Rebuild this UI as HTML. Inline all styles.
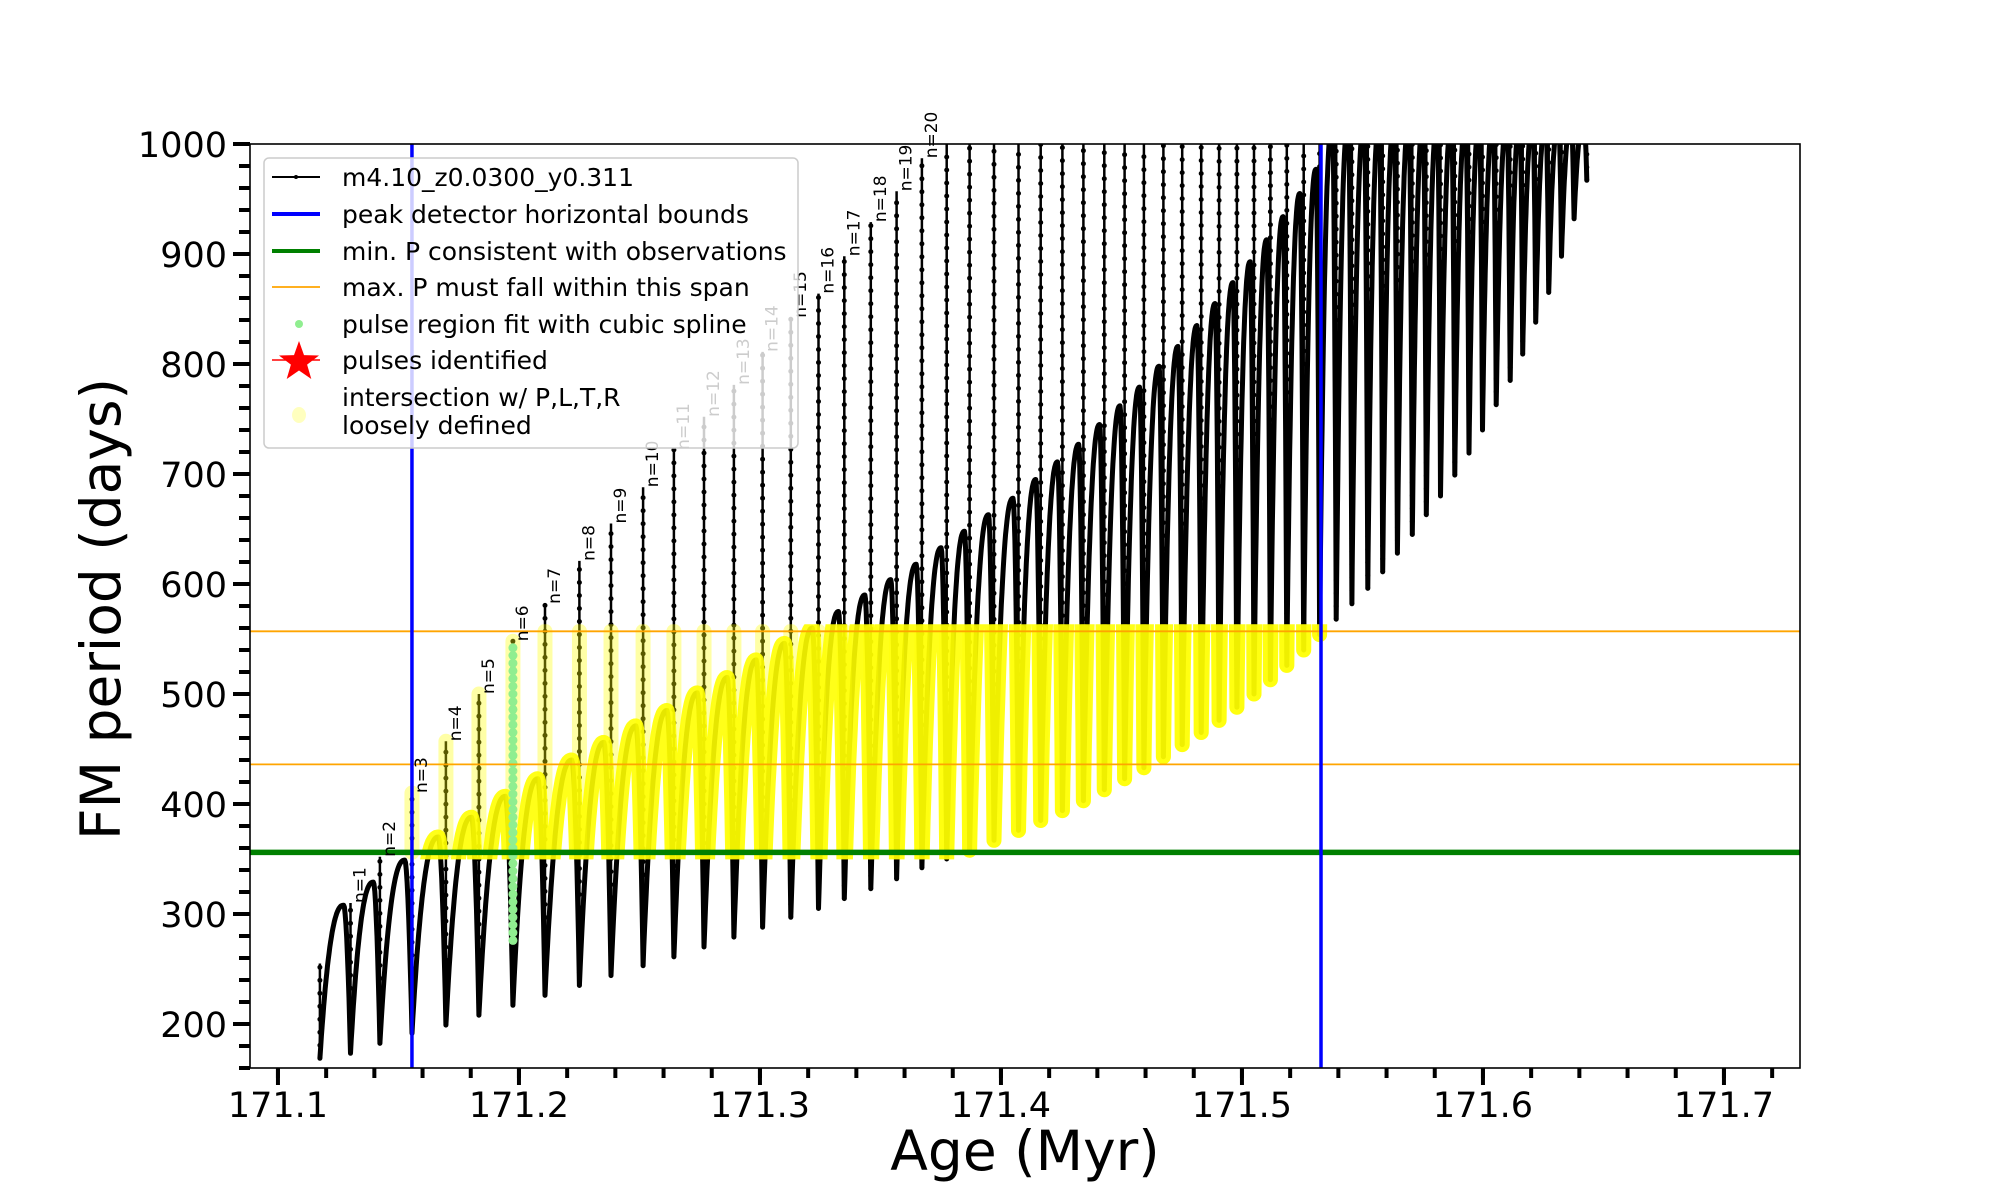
<!DOCTYPE html>
<html><head><meta charset="utf-8"><style>
html,body{margin:0;padding:0;background:#fff}
svg{display:block;font-family:"DejaVu Sans","Liberation Sans",sans-serif}
</style></head><body>
<svg id="chart" width="2000" height="1200" viewBox="0 0 2000 1200" xmlns="http://www.w3.org/2000/svg">
<defs>
<clipPath id="plotClip"><rect x="250" y="144" width="1550" height="924"/></clipPath>
<clipPath id="bandClip"><rect id="bandRect" x="0" y="0" width="0" height="0"/></clipPath>
</defs>
<rect x="0" y="0" width="2000" height="1200" fill="#fff"/>
<g id="plot" clip-path="url(#plotClip)"></g>
<g id="labels"></g>
<g id="axes"></g>
<g id="legend"></g>
</svg>
<script>
// ---- data ----
const pulseAge = [171.1174,171.1301,171.1423,171.1556,171.1697,171.1834,171.1975,171.2108,171.2251,171.2382,
171.2515,171.2643,171.2768,171.2892,171.3011,171.3128,171.3243,171.3350,171.3460,171.3567,
171.3672,171.3775,171.3870,171.3971,171.4073,171.4165,171.4255,171.4342,171.4429,171.4513,
171.4593,171.4674,171.4752,171.4831,171.4905,171.4979,171.5050,171.5118,171.5186,171.5256,
171.5322,171.5391,171.5456,171.5522,171.5584,171.5645,171.5707,171.5765,171.5824,171.5883,
171.5942,171.5998,171.6055,171.6113,171.6165,171.6219,171.6273,171.6326,171.6378,171.6431];
const spikeTop = [255,310,352,410,457,500,548,582,621,655,688,722,752,781,811,842,864,898,929,957,987,
1000,1000,1000,1000,1000,1000,1000,1000,1000,1000,1000,1000,1000,1000,1000,1000,1000,1000,1000,
1000,1000,1000,1000,1000,1000,1000,1000,1000,1000,1000,1000,1000,1000,1000,1000,1000,1000,1000,1000];
const spikeDip = [168.8,173.4,182.4,191.5,199,208,217,226,235,244,253,261,270,279,288,297,305,314,323,332,342,350,358,
367,376,385,394,403,413,423,433,443,454,465,476,488,500,513,526,540,554,
568,582,596,611,628,645,663,680,699,719,740,763,785,809,838,865,898,932,967];
const arcPeak = [308,329,349,370,388,407,423,440,456,471,485,501,515,531,546,560,575,590,604,618,633,648,663,
678,695,711,727,745,762,779,798,816,835,855,874,893,913,934,955,977,
1020,1020,1020,1020,1020,1020,1020,1020,1020,1020,1020,1020,1020,1020,1020,1020,1020,1020,1020];
const boundsAge = [171.1556, 171.5328];
const minP = 356;
const maxPSpan = [436, 557];
const splineSpan = [276, 548];
const splineIndex = 6;
const xTicks = ["171.1","171.2","171.3","171.4","171.5","171.6","171.7"];
const yTicks = ["200","300","400","500","600","700","800","900","1000"];

// ---- scales ----
const X0=250, X1=1800, Y0=144, Y1=1068;
const xMin=171.0884, xMax=171.0884+1550/2410;
const yMin=160, yMax=1000;
const X = a => X0 + (a-xMin)/(xMax-xMin)*(X1-X0);
const Y = p => Y1 - (p-yMin)/(yMax-yMin)*(Y1-Y0);
const NS="http://www.w3.org/2000/svg";
function mk(tag, attrs, parent){const e=document.createElementNS(NS,tag);for(const k in attrs)e.setAttribute(k,attrs[k]);parent.appendChild(e);return e;}
const plot=document.getElementById('plot'), axes=document.getElementById('axes'), legend=document.getElementById('legend'), labelsG=document.getElementById('labels');

// ---- build track ----
let arcD="", spikeD="", yellowArcD="";
for(let k=0;k<pulseAge.length;k++){
  const x=X(pulseAge[k]);
  spikeD += `M${x.toFixed(1)},${Y(spikeDip[k]).toFixed(1)}L${x.toFixed(1)},${Y(spikeTop[k]).toFixed(1)}`;
  if(k<pulseAge.length-1){
    const t0=pulseAge[k], t1=pulseAge[k+1], d0=spikeDip[k], pk=arcPeak[k], d1=spikeDip[k+1];
    let pts=[];
    for(let i=0;i<=40;i++){
      const u=i/40; let p;
      if(u<=0.78){const v=u/0.78;p=d0+(pk-d0)*(1-Math.pow(1-v,2.4));}
      else{const v=(u-0.78)/0.22;p=pk-(pk-d1)*Math.pow(v,1.8);}
      pts.push([X(t0+(t1-t0)*u),Y(p)]);
    }
    const seg="M"+pts.map(q=>q[0].toFixed(1)+","+q[1].toFixed(1)).join("L");
    arcD+=seg;
    if(t0>=boundsAge[0]-1e-4 && t1<=boundsAge[1]+0.01) yellowArcD+=seg;
  }
}
const arcs=mk('path',{d:arcD,fill:'none',stroke:'#000','stroke-width':5,'stroke-linejoin':'round'},plot);


const spikes=mk('path',{d:spikeD,fill:'none',stroke:'#000','stroke-width':2.5},plot);


const spikeDots=mk('path',{d:spikeD,fill:'none',stroke:'#000','stroke-width':5,'stroke-linecap':'round','stroke-dasharray':'0 13'},plot);



// yellow band clip
const br=document.getElementById('bandRect');
br.setAttribute('x',X(boundsAge[0])-8);
br.setAttribute('width',X(boundsAge[1])-X(boundsAge[0])+16);
br.setAttribute('y',Y(maxPSpan[1])-7);
br.setAttribute('height',Y(minP)-Y(maxPSpan[1])+14);
const yg=mk('g',{'clip-path':'url(#bandClip)'},plot);


for(let k=0;k<pulseAge.length;k++){
  const a=pulseAge[k];
  if(a<boundsAge[0]-1e-4||a>boundsAge[1]+1e-4) continue;
  const lo=Math.max(spikeDip[k],minP), hi=Math.min(spikeTop[k],maxPSpan[1]);
  if(hi<=lo) continue;
  const s=mk('line',{x1:X(a),x2:X(a),y1:Y(lo),y2:Y(hi),stroke:'#ffff00','stroke-width':15,'stroke-opacity':0.35,'stroke-linecap':'round'},yg);
  
  
}
const ya=mk('path',{d:yellowArcD,fill:'none',stroke:'#ffff00','stroke-width':15,'stroke-opacity':0.9,'stroke-linejoin':'round','stroke-linecap':'round'},yg);



// green spline dots
const gx=X(pulseAge[splineIndex]);
for(let p=splineSpan[0];p<=splineSpan[1];p+=7){
  const c=mk('circle',{cx:gx,cy:Y(p),r:4.5,fill:'#90ee90'},plot);
  
  
}

// reference lines
for(const p of maxPSpan){
  const l=mk('line',{x1:X0,x2:X1,y1:Y(p),y2:Y(p),stroke:'#ffa500','stroke-width':1.8},plot);
  
  
}
const gl=mk('line',{x1:X0,x2:X1,y1:Y(minP),y2:Y(minP),stroke:'#008000','stroke-width':5.5},plot);


for(const a of boundsAge){
  const l=mk('line',{x1:X(a),x2:X(a),y1:Y0,y2:Y1,stroke:'#0000ff','stroke-width':3.5},plot);
  
  
}

// n labels (outside clip)
for(let n=1;n<=20;n++){
  const x=X(pulseAge[n])+15, y=Y(spikeTop[n]);
  const t=mk('text',{x:x,y:y,transform:`rotate(-90 ${x} ${y})`,'font-size':17,fill:'#000'},labelsG);
  t.textContent='n='+n;
  
  
}

// ---- axes ----
const frame=mk('rect',{x:X0,y:Y0,width:X1-X0,height:Y1-Y0,fill:'none',stroke:'#000','stroke-width':1.6},axes);


for(let v=171.1;v<=xMax+1e-9;v+=0.02){
  const l=mk('line',{x1:X(v),x2:X(v),y1:Y1,y2:Y1+10,stroke:'#000','stroke-width':4},axes);
  
  
}
for(const s of xTicks){
  const v=parseFloat(s);
  const l=mk('line',{x1:X(v),x2:X(v),y1:Y1,y2:Y1+17,stroke:'#000','stroke-width':4},axes);
  
  
  const t=mk('text',{x:X(v),y:1117,'text-anchor':'middle','font-size':35,fill:'#000'},axes);
  t.textContent=s;
  
  
}
for(let v=yMin;v<=yMax+1e-9;v+=20){
  const l=mk('line',{x1:X0-11,x2:X0,y1:Y(v),y2:Y(v),stroke:'#000','stroke-width':4},axes);
  
  
}
for(const s of yTicks){
  const v=parseFloat(s);
  const l=mk('line',{x1:X0-17,x2:X0,y1:Y(v),y2:Y(v),stroke:'#000','stroke-width':4},axes);
  
  
  const t=mk('text',{x:227,y:Y(v)+13,'text-anchor':'end','font-size':35,fill:'#000'},axes);
  t.textContent=s;
  
  
}
const xt=mk('text',{x:1025,y:1170,'text-anchor':'middle','font-size':55,fill:'#000'},axes);
xt.textContent='Age (Myr)';


const yt=mk('text',{x:120,y:609,'text-anchor':'middle','font-size':55,fill:'#000',transform:'rotate(-90 120 609)'},axes);
yt.textContent='FM period (days)';



// ---- legend ----
const lb=mk('rect',{x:264,y:158,width:534,height:290,rx:5,fill:'#fff','fill-opacity':0.8,stroke:'#cccccc','stroke-width':1.5},legend);


const labels=['m4.10_z0.0300_y0.311','peak detector horizontal bounds','min. P consistent with observations','max. P must fall within this span','pulse region fit with cubic spline','pulses identified'];
const rowsY=[177,214,251,287,324,360];
labels.forEach((s,i)=>{
  const t=mk('text',{x:342,y:rowsY[i]+9,'font-size':25,fill:'#000'},legend);
  t.textContent=s;
  
  
});
const t2=mk('text',{x:342,y:406,'font-size':25,fill:'#000'},legend);
t2.textContent='intersection w/ P,L,T,R';


const t3=mk('text',{x:342,y:434,'font-size':25,fill:'#000'},legend);
t3.textContent='loosely defined';


mk('line',{x1:272,x2:320,y1:177,y2:177,stroke:'#000','stroke-width':2},legend);
mk('circle',{cx:296,cy:177,r:2,fill:'#000'},legend);
mk('line',{x1:272,x2:320,y1:214,y2:214,stroke:'#0000ff','stroke-width':4},legend);
mk('line',{x1:272,x2:320,y1:251,y2:251,stroke:'#008000','stroke-width':4},legend);
mk('line',{x1:272,x2:320,y1:287,y2:287,stroke:'#ffa500','stroke-width':1.8},legend);
mk('circle',{cx:299,cy:324,r:4,fill:'#90ee90'},legend);
mk('line',{x1:272,x2:320,y1:360,y2:360,stroke:'#ff0000','stroke-width':1.5},legend);
let sp=[];for(let i=0;i<10;i++){const r=i%2?8.5:21,a=-Math.PI/2+i*Math.PI/5;sp.push((299+r*Math.cos(a)).toFixed(1)+','+(362+r*Math.sin(a)).toFixed(1));}
mk('polygon',{points:sp.join(' '),fill:'#ff0000'},legend);
mk('ellipse',{cx:299,cy:415,rx:7,ry:8,fill:'#ffff00','fill-opacity':0.25},legend);
</script>
</body></html>
